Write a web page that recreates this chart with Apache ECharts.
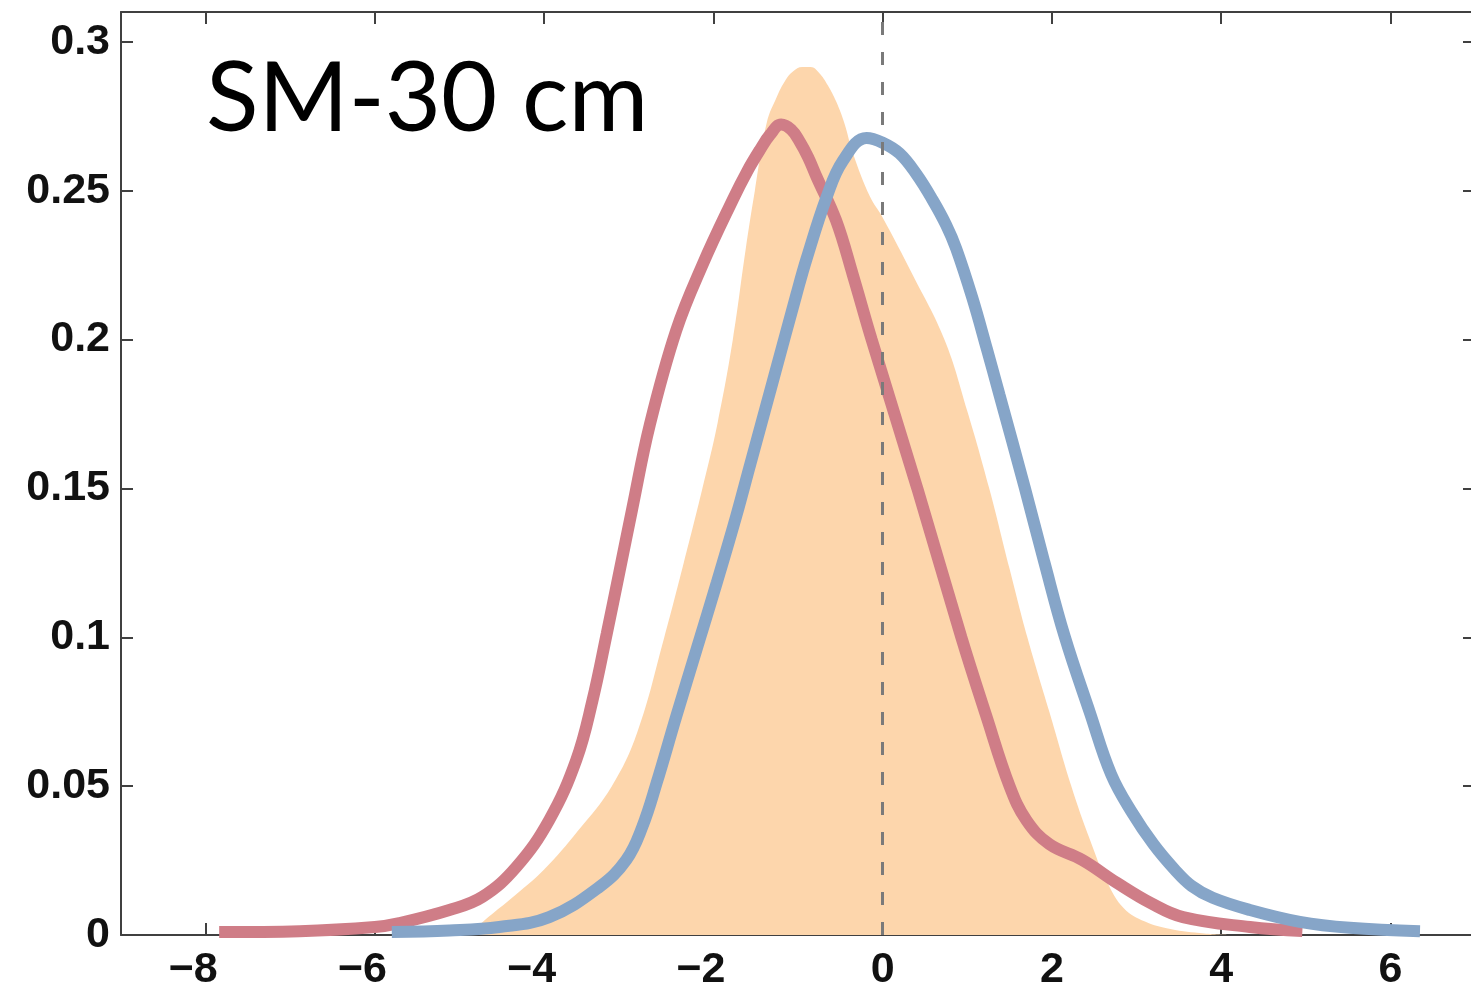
<!DOCTYPE html>
<html>
<head>
<meta charset="utf-8">
<script src="https://cdn.jsdelivr.net/npm/echarts@6/dist/echarts.min.js"></script>
<style>
  html, body { margin: 0; padding: 0; background: #fff; }
  #chart { width: 1471px; height: 993px; }
</style>
</head>
<body>
<div id="chart"></div>
<script>
// density curves, [x, density]
var redCurve = [
    [-7.84, 0.001], [-6.89, 0.0013], [-6.0, 0.0027], [-5.71, 0.004], [-5.12, 0.0084],
    [-4.73, 0.0128], [-4.33, 0.0228], [-3.94, 0.0386], [-3.62, 0.0588], [-3.43, 0.0786],
    [-3.26, 0.1012], [-3.11, 0.122], [-2.96, 0.143], [-2.75, 0.1715], [-2.44, 0.203],
    [-2.13, 0.225], [-1.77, 0.247], [-1.6, 0.2565], [-1.45, 0.2637], [-1.33, 0.2688],
    [-1.2, 0.2722], [-1.08, 0.2705], [-0.98, 0.2665], [-0.88, 0.2612], [-0.78, 0.2546],
    [-0.55, 0.24], [-0.35, 0.2215], [-0.13, 0.2], [0.41, 0.15], [0.93, 0.1],
    [1.22, 0.074], [1.5, 0.05], [1.7, 0.0385], [1.97, 0.0305], [2.36, 0.0252],
    [2.77, 0.0175], [3.17, 0.0107], [3.55, 0.006], [4.34, 0.0027], [4.96, 0.0013]
];
var blueCurve = [
    [-5.8, 0.001], [-5.12, 0.0015], [-4.53, 0.0027], [-3.94, 0.006], [-3.35, 0.0161],
    [-3.03, 0.0252], [-2.84, 0.0363], [-2.67, 0.0511], [-2.44, 0.0733], [-2.2, 0.0958],
    [-1.96, 0.1183], [-1.73, 0.1407], [-1.57, 0.1575], [-1.3, 0.1857], [-1.02, 0.215],
    [-0.9, 0.227], [-0.66, 0.248], [-0.47, 0.26], [-0.19, 0.2677], [0, 0.2661],
    [0.2, 0.2625], [0.4, 0.2555], [0.59, 0.2469], [0.75, 0.2385], [0.87, 0.2305],
    [1.06, 0.214], [1.23, 0.197], [1.38, 0.1815], [1.68, 0.1502], [1.91, 0.1253],
    [2.15, 0.1004], [2.45, 0.0746], [2.7, 0.054], [2.95, 0.041], [3.2, 0.0305],
    [3.45, 0.022], [3.65, 0.0165], [3.9, 0.0125], [4.34, 0.0084], [4.93, 0.0044],
    [5.52, 0.0024], [6.35, 0.0013]
];
var orangeArea = [
    [-4.88, 0.0], [-4.7, 0.005], [-4.4, 0.012], [-4.0, 0.022], [-3.6, 0.035],
    [-3.2, 0.05], [-2.9, 0.068], [-2.58, 0.1], [-2.35, 0.125], [-2.13, 0.15],
    [-1.95, 0.172], [-1.77, 0.2], [-1.62, 0.23], [-1.51, 0.25], [-1.37, 0.2727],
    [-1.25, 0.2815], [-1.15, 0.287], [-1.06, 0.29], [-0.95, 0.2915], [-0.85, 0.2915],
    [-0.75, 0.2895], [-0.65, 0.2855], [-0.55, 0.28], [-0.45, 0.2725], [-0.35, 0.2625],
    [-0.15, 0.248], [0, 0.241], [0.35, 0.222], [0.73, 0.2], [1.0, 0.176],
    [1.26, 0.15], [1.5, 0.123], [1.71, 0.1], [1.97, 0.075], [2.23, 0.05],
    [2.45, 0.032], [2.65, 0.018], [2.85, 0.009], [3.1, 0.0045], [3.4, 0.002],
    [3.8, 0.0005], [4.1, 0.0]
];

var xRange = [-9, 7];
var yRange = [0, 0.31];
var panelLabel = 'SM-30 cm';

var axisColor = '#404040';
var labelFont = { fontFamily: 'Liberation Sans', fontWeight: 'bold', fontSize: 43, color: '#111' };

var chart = echarts.init(document.getElementById('chart'));

// keep the digit centred on its tick, as in the original figure
function xLabel(v) {
    if (Math.abs(v % 2) > 1e-9) return '';
    if (v < 0) return '{t|\u2212' + (-v) + '}{p|\u2212}';
    return '{t|' + v + '}';
}

function boxAxis(extra) {
    var base = {
        type: 'value',
        axisLine: { show: true, onZero: false, lineStyle: { color: axisColor, width: 2 } },
        axisTick: { show: true, inside: true, length: 12, lineStyle: { color: axisColor, width: 2 } },
        splitLine: { show: false }
    };
    return Object.assign(base, extra);
}

var option = {
    animation: false,
    backgroundColor: '#fff',
    title: {
        text: panelLabel,
        left: 201,
        top: 46,
        textStyle: { fontFamily: 'Lato', fontWeight: 'normal', fontSize: 97, color: '#000' }
    },
    grid: { left: 121, top: 12, width: 1354, bottom: 58, containLabel: false, outerBoundsMode: 'none' },
    xAxis: [
        boxAxis({
            position: 'bottom', min: xRange[0], max: xRange[1], splitNumber: 8,
            axisLabel: {
                margin: 14, formatter: xLabel,
                rich: {
                    t: labelFont,
                    p: Object.assign({}, labelFont, { color: 'rgba(0,0,0,0)' })
                }
            }
        }),
        boxAxis({
            position: 'top', min: xRange[0], max: xRange[1], splitNumber: 8,
            axisLabel: { show: false }
        })
    ],
    yAxis: [
        boxAxis({
            position: 'left', min: yRange[0], max: yRange[1], interval: 0.05,
            axisLabel: Object.assign({ margin: 11, showMaxLabel: false }, labelFont)
        }),
        boxAxis({
            position: 'right', min: yRange[0], max: yRange[1], interval: 0.05,
            axisLabel: { show: false }
        })
    ],
    series: [
        {
            type: 'line',
            data: orangeArea,
            smooth: 0.4,
            symbol: 'none',
            lineStyle: { width: 0 },
            areaStyle: { color: '#fdd6ac', opacity: 1 },
            z: 1
        },
        {
            type: 'line',
            data: redCurve,
            smooth: 0.4,
            symbol: 'none',
            lineStyle: { color: '#cf7d87', width: 12 },
            z: 2
        },
        {
            type: 'line',
            data: blueCurve,
            smooth: 0.4,
            symbol: 'none',
            lineStyle: { color: '#86a5c8', width: 12 },
            z: 3
        },
        {
            type: 'line',
            data: [],
            z: 5,
            markLine: {
                silent: true,
                symbol: 'none',
                label: { show: false },
                lineStyle: { color: '#7a7a7a', width: 3, type: [13, 17] },
                data: [{ xAxis: 0 }]
            }
        }
    ]
};

chart.setOption(option);
</script>
</body>
</html>
